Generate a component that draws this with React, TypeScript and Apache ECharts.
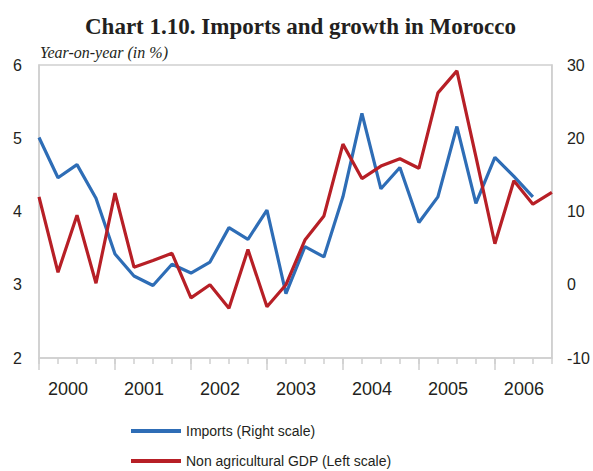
import React, { useEffect, useRef } from "react";
import * as echarts from "echarts";

const years = ["2000", "2001", "2002", "2003", "2004", "2005", "2006"];
const quarters = ["Q1", "Q2", "Q3", "Q4"];
const categories: string[] = [];
years.forEach((y) => quarters.forEach((q) => categories.push(`${y} ${q}`)));

// Imports, y-o-y % (right scale)
const imports: (number | null)[] = [
  20.1, 14.6, 16.4, 11.8, 4.2, 1.2, -0.1, 2.8, 1.6, 3.1, 7.8, 6.2, 10.2, -1.2,
  5.2, 3.8, 12.0, 23.4, 13.1, 16.0, 8.5, 12.0, 21.6, 11.1, 17.4, 14.8, 12.0, null,
];
// Non agricultural GDP, y-o-y % (left scale)
const gdp: number[] = [
  4.2, 3.17, 3.95, 3.02, 4.25, 3.24, 3.33, 3.43, 2.82, 3.0, 2.68, 3.48, 2.7, 3.0,
  3.61, 3.94, 4.92, 4.45, 4.62, 4.72, 4.59, 5.62, 5.92, 4.75, 3.56, 4.42, 4.1, 4.26,
];

const leftTicks = { min: 2, max: 6, interval: 1 };
const rightTicks = { min: -10, max: 30, interval: 10 };

const TEXT = "#231f20";
const GRIDC = "#cfcfcf";
const SANS = "'Liberation Sans', Arial, sans-serif";
const SERIF = "'Liberation Serif', 'Times New Roman', serif";

export default function App() {
  const ref = useRef<HTMLDivElement>(null);
  useEffect(() => {
    document.body.style.margin = "0";
    const chart = echarts.init(ref.current!, null, { renderer: "svg" });
    chart.setOption({
      animation: false,
      backgroundColor: "#ffffff",
      title: [
        {
          text: "Chart 1.10. Imports and growth in Morocco",
          left: 85,
          top: 15,
          padding: 0,
          textStyle: { fontFamily: SERIF, fontWeight: "bold", fontSize: 23, color: TEXT },
        },
        {
          text: "Year-on-year (in %)",
          left: 40,
          top: 44,
          padding: 0,
          textStyle: { fontFamily: SERIF, fontStyle: "italic", fontWeight: "normal", fontSize: 16, color: TEXT },
        },
      ],
      legend: {
        orient: "vertical",
        left: 131,
        top: 423,
        padding: 0,
        icon: "rect",
        itemWidth: 50,
        itemHeight: 4,
        itemGap: 14,
        textStyle: { fontFamily: SANS, fontSize: 14, lineHeight: 16, color: TEXT },
        data: ["Imports (Right scale)", "Non agricultural GDP (Left scale)"],
      },
      grid: {
        left: 39,
        right: 40,
        top: 65,
        bottom: 113,
        show: true,
        borderColor: GRIDC,
        borderWidth: 1.5,
      },
      xAxis: [
        {
          type: "category",
          data: categories,
          boundaryGap: false,
          axisLine: { onZero: false, lineStyle: { color: GRIDC, width: 1.5 } },
          axisTick: { show: true, interval: 0, length: 6, lineStyle: { color: GRIDC, width: 1.5 } },
          axisLabel: { show: false },
          splitLine: { show: false },
        },
        {
          type: "category",
          data: categories,
          boundaryGap: false,
          position: "bottom",
          axisLine: { show: false, onZero: false },
          axisTick: {
            show: true,
            interval: (i: number) => i % 4 === 0,
            length: 12,
            lineStyle: { color: GRIDC, width: 1.5 },
          },
          axisLabel: {
            show: true,
            interval: (i: number) => i % 4 === 1,
            margin: 22,
            formatter: (v: string) => `{y|${v.slice(0, 4)}}`,
            rich: {
              y: {
                fontFamily: SANS,
                fontSize: 18,
                color: TEXT,
                padding: [0, 0, 0, 20],
              },
            },
          },
          splitLine: { show: false },
        },
      ],
      yAxis: [
        {
          type: "value",
          position: "left",
          ...leftTicks,
          axisLine: { show: true, lineStyle: { color: GRIDC, width: 1.5 } },
          axisTick: { show: false },
          splitLine: { show: false },
          axisLabel: { fontFamily: SANS, fontSize: 16, color: TEXT, margin: 17 },
        },
        {
          type: "value",
          position: "right",
          ...rightTicks,
          axisLine: { show: true, lineStyle: { color: GRIDC, width: 1.5 } },
          axisTick: { show: false },
          splitLine: { show: false },
          axisLabel: { fontFamily: SANS, fontSize: 16, color: TEXT, margin: 15 },
        },
      ],
      series: [
        {
          name: "Imports (Right scale)",
          type: "line",
          xAxisIndex: 0,
          yAxisIndex: 1,
          data: imports,
          symbol: "none",
          lineStyle: { color: "#2e6db6", width: 3.2 },
          itemStyle: { color: "#2e6db6" },
        },
        {
          name: "Non agricultural GDP (Left scale)",
          type: "line",
          xAxisIndex: 0,
          yAxisIndex: 0,
          data: gdp,
          symbol: "none",
          lineStyle: { color: "#b71f26", width: 3.2 },
          itemStyle: { color: "#b71f26" },
        },
      ],
    });
    return () => chart.dispose();
  }, []);
  return <div ref={ref} style={{ width: 593, height: 471 }} />;
}
